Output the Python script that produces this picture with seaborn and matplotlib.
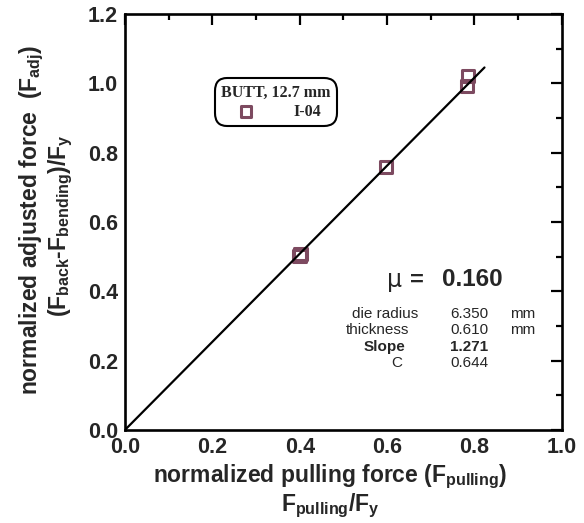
import matplotlib
matplotlib.use("Agg")
import matplotlib.pyplot as plt
from matplotlib.ticker import MultipleLocator
import seaborn as sns
import pandas as pd

# Measured points, specimen I-04 (butt, 12.7 mm)
pulling = [0.400, 0.402, 0.598, 0.783, 0.785]
adjusted = [0.502, 0.508, 0.759, 0.992, 1.021]
series_name = "I-04"
legend_title = "BUTT, 12.7 mm"

# Fit parameters
mu = 0.160
die_radius = 6.350
thickness = 0.610
slope = 1.271
c_value = 0.644
fit_x = [0.0, 0.823]

x_ticks = [0.0, 0.2, 0.4, 0.6, 0.8, 1.0]
y_ticks = [0.0, 0.2, 0.4, 0.6, 0.8, 1.0, 1.2]

sns.set_theme(style="white")
plt.rcParams["font.family"] = ["Liberation Sans", "DejaVu Sans"]
plt.rcParams["mathtext.fontset"] = "custom"
plt.rcParams["mathtext.rm"] = "Liberation Sans:bold"
plt.rcParams["mathtext.bf"] = "Liberation Sans:bold"
plt.rcParams["mathtext.it"] = "Liberation Sans:bold"

fig = plt.figure(figsize=(5.84, 5.23), dpi=100)
ax = fig.add_axes([0.214, 0.178, 0.748, 0.795])

pts = pd.DataFrame({"x": pulling, "y": adjusted, "series": series_name})
fit = pd.DataFrame({"x": fit_x, "y": [slope * v for v in fit_x]})

sns.lineplot(data=fit, x="x", y="y", ax=ax, color="black", linewidth=1.6,
             legend=False, zorder=3)
sns.scatterplot(data=pts, x="x", y="y", ax=ax, marker="s", s=80,
                fc="none", ec="#7d4a60", linewidth=2.2, label=series_name,
                zorder=2)

ax.set_xlim(0, 1.0)
ax.set_ylim(0, 1.2)
ax.set_xticks(x_ticks)
ax.set_yticks(y_ticks)
ax.set_xticklabels([f"{v:.1f}" for v in x_ticks])
ax.set_yticklabels([f"{v:.1f}" for v in y_ticks])
ax.xaxis.set_minor_locator(MultipleLocator(0.1))
ax.yaxis.set_minor_locator(MultipleLocator(0.1))
ax.tick_params(which="both", direction="in", top=True, right=True,
               color="black", width=1.6)
ax.tick_params(which="major", length=8, labelsize=15.5)
ax.tick_params(axis="x", which="major", pad=5)
ax.tick_params(axis="y", which="major", pad=5)
ax.tick_params(which="minor", length=4.5)
for lbl in ax.get_xticklabels() + ax.get_yticklabels():
    lbl.set_fontweight("bold")
for sp in ax.spines.values():
    sp.set_linewidth(1.9)
    sp.set_color("black")

# Two-line axis titles, placed on the figure
ax.set_xlabel("")
ax.set_ylabel("")
fig.text(0.566, 1 - 482 / 523, r"normalized pulling force ($\mathrm{F_{pulling}}$)",
         fontsize=16.5, fontweight="bold", ha="center", va="baseline")
fig.text(0.566, 1 - 511 / 523, r"$\mathrm{F_{pulling}/F_y}$",
         fontsize=16.5, fontweight="bold", ha="center", va="baseline")
fig.text(37 / 584, 1 - 220 / 523, r"normalized adjusted force  ($\mathrm{F_{adj}}$)",
         fontsize=16.5, fontweight="bold", ha="center", va="baseline",
         rotation=90, rotation_mode="anchor")
fig.text(66 / 584, 1 - 226 / 523, r"$\mathrm{(F_{back}\text{-}F_{bending})/F_y}$",
         fontsize=16.5, fontweight="bold", ha="center", va="baseline",
         rotation=90, rotation_mode="anchor")

leg = ax.legend(loc="upper left", bbox_to_anchor=(0.196, 0.855),
                title=legend_title, fancybox=True, frameon=True,
                edgecolor="black", framealpha=1, handletextpad=2.0,
                borderpad=0.15, labelspacing=0.1, markerscale=0.85,
                prop={"family": "Liberation Serif", "weight": "bold", "size": 11.5})
leg.get_title().set_fontfamily("Liberation Serif")
leg.get_title().set_fontweight("bold")
leg.get_title().set_fontsize(11.5)
leg.get_frame().set_linewidth(1.5)
leg.get_frame().set_boxstyle("round", pad=0.25, rounding_size=0.8)
leg._legend_box.sep = 2

# Fit summary block
ax.text(0.617, 0.361, "\u03bc", transform=ax.transAxes, fontsize=17,
        family="DejaVu Sans", ha="center", va="center")
ax.text(0.668, 0.361, "=", transform=ax.transAxes, fontsize=17,
        fontweight="bold", ha="center", va="center")
ax.text(0.794, 0.361, f"{mu:.3f}", transform=ax.transAxes, fontsize=17.5,
        fontweight="bold", ha="center", va="center")

rows = [("die radius", 0.595, 0.279, f"{die_radius:.3f}", "mm", "normal"),
        ("thickness", 0.577, 0.240, f"{thickness:.3f}", "mm", "normal"),
        ("Slope", 0.595, 0.200, f"{slope:.3f}", "", "bold"),
        ("C", 0.622, 0.161, f"{c_value:.3f}", "", "normal")]
for name, nx, yy, val, unit, w in rows:
    ax.text(nx, yy, name, transform=ax.transAxes, fontsize=11,
            fontweight=w, ha="center", va="center")
    ax.text(0.744, yy, val, transform=ax.transAxes, fontsize=11,
            fontweight=w, ha="left", va="center")
    if unit:
        ax.text(0.911, yy, unit, transform=ax.transAxes, fontsize=11,
                ha="center", va="center")

fig.savefig("out.png", dpi=100)
